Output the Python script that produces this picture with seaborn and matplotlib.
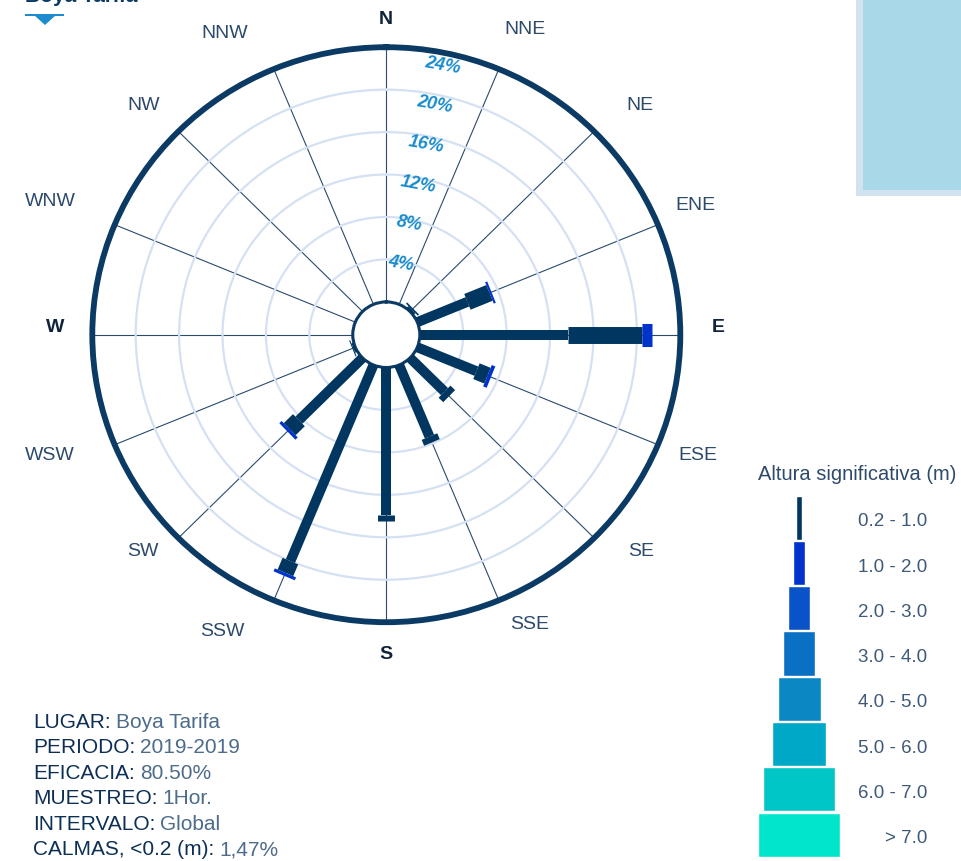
import numpy as np
import pandas as pd
import matplotlib
matplotlib.use("Agg")
import matplotlib.pyplot as plt
from matplotlib.patches import Rectangle, Polygon
import seaborn as sns

W_PX, H_PX = 961, 862

# wave rose data: frequency (%) per direction and height class
directions = ['N', 'NNE', 'NE', 'ENE', 'E', 'ESE', 'SE', 'SSE',
              'S', 'SSW', 'SW', 'WSW', 'W', 'WNW', 'NW', 'NNW']
freq_02_10 = [0, 0, 0.25, 5.0, 13.65, 5.9, 4.5, 7.3, 13.9, 20.0, 8.3, 0.2, 0, 0, 0, 0]
freq_10_20 = [0, 0, 0.15, 2.2, 6.85, 1.1, 0.6, 0.6, 0.6, 1.2, 1.2, 0.1, 0, 0, 0, 0]
freq_20_30 = [0, 0, 0, 0.2, 0.9, 0.35, 0, 0, 0, 0.3, 0.3, 0, 0, 0, 0, 0]

ring_ticks = [4, 8, 12, 16, 20, 24]

height_classes = ['0.2 - 1.0', '1.0 - 2.0', '2.0 - 3.0', '3.0 - 4.0',
                  '4.0 - 5.0', '5.0 - 6.0', '6.0 - 7.0', '> 7.0']
class_colors = ['#003660', '#0033cc', '#0a52c8', '#0a70c4',
                '#0a88c4', '#00a8c8', '#00c6c8', '#00e6cc']
legend_widths = [6.7, 11.7, 22.3, 32.3, 43, 54.3, 71.7, 81.7]

info_keys = ['LUGAR:', 'PERIODO:', 'EFICACIA:', 'MUESTREO:', 'INTERVALO:', 'CALMAS, <0.2 (m):']
info_values = ['Boya Tarifa', '2019-2019', '80.50%', '1Hor.', 'Global', '1,47%']

# styles / layout
NAVY = '#0b3a64'
rose_colors = ['#003660', '#003660', '#0033cc']
rose_widths = [7.2, 12.2, 16.6]
# compass label positions in figure pixels (from top-left)
label_xy = [(386, 20), (525, 30), (640, 105), (695, 205), (718, 328),
            (698, 455), (641, 551), (530, 625), (386, 655), (222, 631),
            (143, 551), (50, 455), (55, 328), (50, 202), (144, 105), (225, 33)]

sns.set_theme(style='white')
plt.rcParams['font.family'] = ['Liberation Sans', 'DejaVu Sans']


def fx(px):
    return px / W_PX


def fy(py):
    return 1 - py / H_PX


fig = plt.figure(figsize=(W_PX / 100, H_PX / 100), dpi=100)
fig.patch.set_facecolor('white')

df = pd.DataFrame({'direction': directions, '0.2 - 1.0': freq_02_10,
                   '1.0 - 2.0': freq_10_20, '2.0 - 3.0': freq_20_30})
df['theta'] = np.deg2rad(np.arange(len(directions)) * 22.5)

# rose axes (slightly elliptical like the reference)
ax = fig.add_axes([fx(386.3 - 294), fy(335.7 + 287.5), fx(588), 575 / H_PX],
                  projection='polar')
ax.set_aspect('auto')
ax.set_theta_zero_location('N')
ax.set_theta_direction(-1)
ax.set_ylim(0, 24)
ax.set_rorigin(-3.09)
ax.set_facecolor('white')
ax.set_xticks(df['theta'])
ax.set_xticklabels([])
ax.set_yticks(ring_ticks[:-1])
ax.set_yticklabels([])
ax.grid(True)
ax.xaxis.grid(True, color='#2a4b6e', lw=0.8)
ax.yaxis.grid(True, color='#d5e1f3', lw=1.6)
ax.spines['polar'].set_color(NAVY)
ax.spines['polar'].set_linewidth(4.2)
ax.spines['inner'].set_color(NAVY)
ax.spines['inner'].set_linewidth(2.2)

classes = ['0.2 - 1.0', '1.0 - 2.0', '2.0 - 3.0']
for _, row in df.iterrows():
    start = 0
    for k, cls in enumerate(classes):
        f = row[cls]
        if f > 0:
            ax.plot([row['theta'], row['theta']], [start, start + f],
                    color=rose_colors[k], lw=rose_widths[k],
                    solid_capstyle='butt', zorder=3 + k)
        start += f

for v in ring_ticks:
    ax.text(np.deg2rad(11.5), v * 0.955, f'{v}%', ha='center', va='center',
            rotation=-10, color='#1a8ccc', fontsize=13,
            fontstyle='italic', fontweight='bold', zorder=6)

for d, (px, py) in zip(directions, label_xy):
    cardinal = d in ('N', 'E', 'S', 'W')
    fig.text(fx(px), fy(py), d, ha='center', va='center',
             fontsize=14, fontweight='bold' if cardinal else 'normal',
             color='#10243c' if cardinal else '#2d4a6b')

# legend pyramid
lax = fig.add_axes([fx(740), fy(858.3), fx(200), (858.3 - 496) / H_PX])
lax.barh(range(len(height_classes)), legend_widths,
         left=[-w / 2 for w in legend_widths], height=0.975,
         color=class_colors)
lax.set_xlim(-59, 141)
lax.set_ylim(len(height_classes) - 0.5, -0.5)
lax.axis('off')
for i, lab in enumerate(height_classes):
    lax.text(128, i + 0.07, lab, ha='right', va='center',
             fontsize=13.5, color='#3e5a78')
fig.text(fx(758), fy(475), 'Altura significativa (m)', ha='left', va='center',
         fontsize=14.5, color='#2d4a6b')

# info block
fig.canvas.draw()
renderer = fig.canvas.get_renderer()
for i, (k, v) in enumerate(zip(info_keys, info_values)):
    y = fy(722 + i * 25.6)
    kt = fig.text(fx(33), y, k, ha='left', va='center', fontsize=15,
                  color='#0d2f55')
    bb = kt.get_window_extent(renderer)
    fig.text(fx(bb.x1 + 5), y, v, ha='left', va='center', fontsize=15,
             color='#4d6b8a')

# title (cut at top, as in the reference) and marker
fig.text(fx(25), fy(2), 'Boya Tarifa', ha='left', va='baseline',
         fontsize=15, fontweight='bold', color=NAVY)
fig.add_artist(Rectangle((fx(25), fy(16.7)), fx(39), 1.7 / H_PX,
                         transform=fig.transFigure, color='#1d8bcc', lw=0))
fig.add_artist(Polygon([(fx(34), fy(16)), (fx(56), fy(16)), (fx(45), fy(26))],
                       closed=True, transform=fig.transFigure,
                       color='#1d8bcc', lw=0))

# box at top right
fig.add_artist(Rectangle((fx(856), fy(197.3)), fx(105), 197.3 / H_PX,
                         transform=fig.transFigure, color='#d2e2ee', lw=0))
fig.add_artist(Rectangle((fx(863.3), fy(190.7)), fx(98), 190.7 / H_PX,
                         transform=fig.transFigure, color='#a9d8e8', lw=0))

fig.savefig('out.png', dpi=100)
